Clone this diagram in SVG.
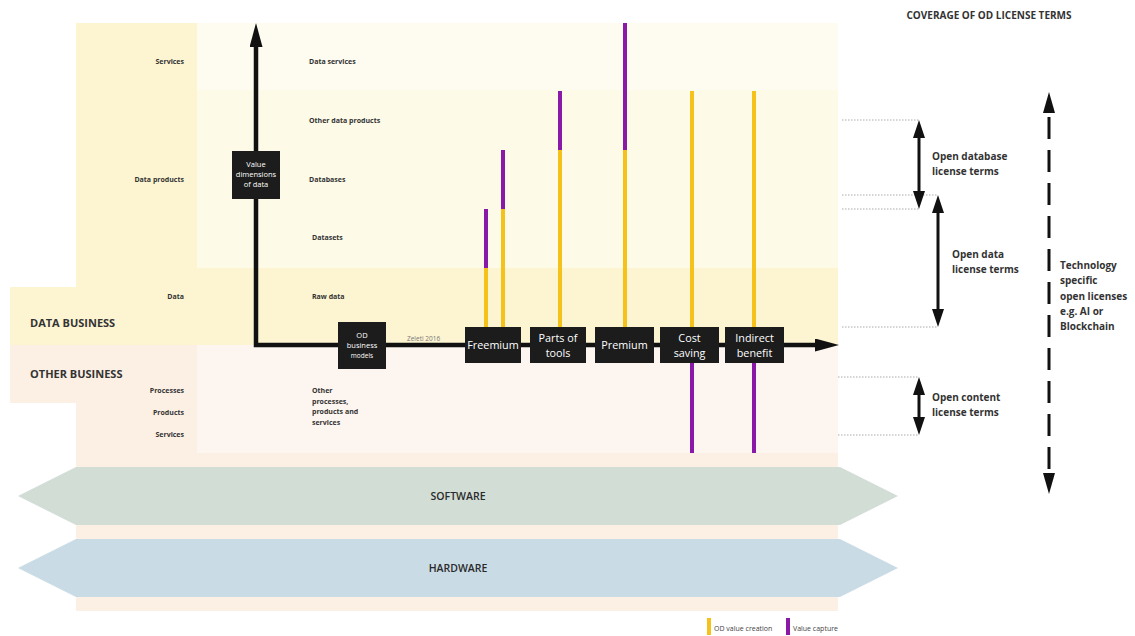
<svg xmlns="http://www.w3.org/2000/svg" width="1135" height="636" viewBox="0 0 1135 636">
<defs>
<style>
text{font-family:"Open Sans","DejaVu Sans",sans-serif;fill:#333}
.lbl{font-size:7px;font-weight:700}
.cap{font-size:11px;font-weight:700}
.band{font-size:10.5px;font-weight:600;fill:#2a2a2a}
.rt{font-size:10px;font-weight:700;fill:#333}
.box{fill:#1c1c1c}
.bt{font-size:10.8px;fill:#fff}
.st{font-size:7.5px;fill:#fff}
.dot{stroke:#aaa;stroke-width:1;stroke-dasharray:1.5 1.5;fill:none}
.y{stroke:#f5c21b;stroke-width:4}
.p{stroke:#8b19a8;stroke-width:4}
.ax{stroke:#111;stroke-width:4.5;fill:none;stroke-linejoin:miter}
.da{stroke:#111;stroke-width:3;fill:none}
</style>
<marker id="ahBig" viewBox="0 0 24 13" refX="0" refY="6.5" markerWidth="24" markerHeight="13" orient="auto-start-reverse" markerUnits="userSpaceOnUse"><path d="M0,0L24,6.5L0,13z" fill="#111"/></marker>
<marker id="ahMid" viewBox="0 0 18 12" refX="0" refY="6" markerWidth="18" markerHeight="12" orient="auto-start-reverse" markerUnits="userSpaceOnUse"><path d="M0,0L18,6L0,12z" fill="#111"/></marker>
<marker id="ahDash" viewBox="0 0 21 12" refX="0" refY="6" markerWidth="21" markerHeight="12" orient="auto-start-reverse" markerUnits="userSpaceOnUse"><path d="M0,0L21,6L0,12z" fill="#111"/></marker>
</defs>

<g id="backgrounds">
<rect x="76" y="345" width="762" height="266" fill="#fcefe3"/>
<path d="M76,23H197V345H10V287H76z" fill="#fdf5d2"/>
<rect x="197" y="268" width="641" height="77" fill="#fdf5d2"/>
<rect x="197" y="23" width="641" height="67" fill="#fefcf0"/>
<rect x="197" y="90" width="641" height="178" fill="#fdfae8"/>
<path d="M10,345H197V466H76V403H10z" fill="#fcefe3"/>
<rect x="197" y="345" width="641" height="108" fill="#fdf5ef"/>
</g>

<g id="software">
<polygon points="18,496 76,467 840,467 898,496 840,525 76,525" fill="#d1ddd5"/>
<text x="458" y="500" text-anchor="middle" class="band">SOFTWARE</text>
</g>
<g id="hardware">
<polygon points="18,568 76,539 840,539 898,568 840,597 76,597" fill="#c9dce6"/>
<text x="458" y="572" text-anchor="middle" class="band">HARDWARE</text>
</g>

<g id="labels-left">
<text x="184" y="64" text-anchor="end" class="lbl">Services</text>
<text x="184" y="182" text-anchor="end" class="lbl">Data products</text>
<text x="184" y="299" text-anchor="end" class="lbl">Data</text>
<text x="184" y="393" text-anchor="end" class="lbl">Processes</text>
<text x="184" y="415" text-anchor="end" class="lbl">Products</text>
<text x="184" y="437" text-anchor="end" class="lbl">Services</text>
<text x="30" y="327" class="cap">DATA BUSINESS</text>
<text x="30" y="378" class="cap">OTHER BUSINESS</text>
</g>

<g id="labels-mid">
<text x="309" y="64" class="lbl">Data services</text>
<text x="309" y="123" class="lbl">Other data products</text>
<text x="309" y="182" class="lbl">Databases</text>
<text x="312" y="240" class="lbl">Datasets</text>
<text x="312" y="299" class="lbl">Raw data</text>
<text x="312" y="393" class="lbl">Other<tspan x="312" y="403.5">processes,</tspan><tspan x="312" y="414">products and</tspan><tspan x="312" y="424.5">services</tspan></text>
</g>

<g id="bars">
<line x1="486" y1="209" x2="486" y2="268" class="p"/>
<line x1="486" y1="268" x2="486" y2="328" class="y"/>
<line x1="503" y1="150" x2="503" y2="209" class="p"/>
<line x1="503" y1="209" x2="503" y2="328" class="y"/>
<line x1="560" y1="91" x2="560" y2="150" class="p"/>
<line x1="560" y1="150" x2="560" y2="328" class="y"/>
<line x1="625" y1="23" x2="625" y2="150" class="p"/>
<line x1="625" y1="150" x2="625" y2="328" class="y"/>
<line x1="692" y1="91" x2="692" y2="328" class="y"/>
<line x1="692" y1="362" x2="692" y2="453" class="p"/>
<line x1="754" y1="91" x2="754" y2="328" class="y"/>
<line x1="754" y1="362" x2="754" y2="453" class="p"/>
</g>

<g id="connectors">
<path d="M256,47V345H815" class="ax" marker-start="url(#ahBig)" marker-end="url(#ahBig)"/>
<line x1="842" y1="120" x2="919" y2="120" class="dot"/>
<line x1="842" y1="195" x2="938" y2="195" class="dot"/>
<line x1="842" y1="209" x2="919" y2="209" class="dot"/>
<line x1="842" y1="327" x2="938" y2="327" class="dot"/>
<line x1="838" y1="377" x2="919" y2="377" class="dot"/>
<line x1="838" y1="435" x2="919" y2="435" class="dot"/>
<path d="M919,138V191" class="da" marker-start="url(#ahMid)" marker-end="url(#ahMid)"/>
<path d="M938,213V309" class="da" marker-start="url(#ahMid)" marker-end="url(#ahMid)"/>
<path d="M919,395V417" class="da" marker-start="url(#ahMid)" marker-end="url(#ahMid)"/>
<path d="M1049,113V473" class="da" stroke-width="4.5" stroke-dasharray="22 11" stroke-dashoffset="-4" marker-start="url(#ahDash)" marker-end="url(#ahDash)"/>
</g>

<g id="node-value-dimensions">
<rect x="232" y="151" width="48" height="48" class="box"/>
<text x="256" y="167" text-anchor="middle" class="st">Value<tspan x="256" y="177">dimensions</tspan><tspan x="256" y="187">of data</tspan></text>
</g>
<g id="node-od-business-models">
<rect x="338" y="322" width="48" height="47" class="box"/>
<text x="362" y="338" text-anchor="middle" class="st">OD<tspan x="362" y="348">business</tspan><tspan x="362" y="358" style="font-size:6.5px">models</tspan></text>
</g>
<text x="407" y="341" style="font-size:6.5px;fill:#777">Zeleti 2016</text>

<g id="node-freemium">
<rect x="465" y="327" width="56" height="36" class="box"/>
<text x="493" y="349" text-anchor="middle" class="bt">Freemium</text>
</g>
<g id="node-parts-of-tools">
<rect x="530" y="327" width="56" height="36" class="box"/>
<text x="558" y="342" text-anchor="middle" class="bt">Parts of<tspan x="558" y="357">tools</tspan></text>
</g>
<g id="node-premium">
<rect x="595" y="327" width="59" height="36" class="box"/>
<text x="624.5" y="349" text-anchor="middle" class="bt">Premium</text>
</g>
<g id="node-cost-saving">
<rect x="660" y="327" width="59" height="36" class="box"/>
<text x="689.5" y="342" text-anchor="middle" class="bt">Cost<tspan x="689.5" y="357">saving</tspan></text>
</g>
<g id="node-indirect-benefit">
<rect x="725" y="327" width="59" height="36" class="box"/>
<text x="754.5" y="342" text-anchor="middle" class="bt">Indirect<tspan x="754.5" y="357">benefit</tspan></text>
</g>

<g id="labels-right">
<text x="989" y="19" text-anchor="middle" class="rt">COVERAGE OF OD LICENSE TERMS</text>
<text x="932" y="160" class="rt">Open database<tspan x="932" y="175">license terms</tspan></text>
<text x="952" y="258" class="rt">Open data<tspan x="952" y="273">license terms</tspan></text>
<text x="932" y="401" class="rt">Open content<tspan x="932" y="416">license terms</tspan></text>
<text x="1060" y="269" class="rt">Technology<tspan x="1060" y="284">specific</tspan><tspan x="1060" y="300">open licenses</tspan><tspan x="1060" y="315">e.g. AI or</tspan><tspan x="1060" y="330">Blockchain</tspan></text>
</g>

<g id="legend">
<line x1="709" y1="618" x2="709" y2="635" class="y" stroke-width="3"/>
<text x="714" y="631" style="font-size:7px;fill:#444">OD value creation</text>
<line x1="788" y1="618" x2="788" y2="635" class="p" stroke-width="3"/>
<text x="793" y="631" style="font-size:7px;fill:#444">Value capture</text>
</g>
</svg>
